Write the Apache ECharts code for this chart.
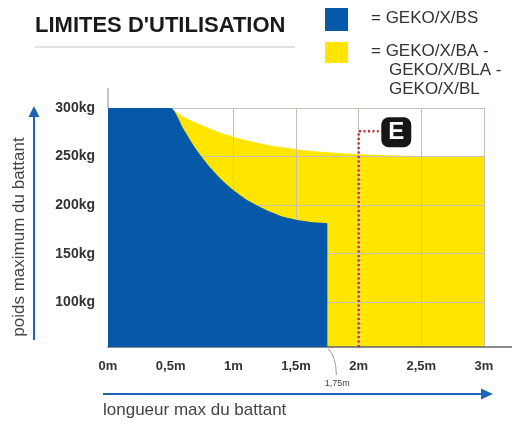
<!DOCTYPE html>
<html>
<head>
    <meta charset="UTF-8">
    <title>Limites d'utilisation</title>
    <script type="text/javascript" src="https://cdn.jsdelivr.net/npm/echarts@6/dist/echarts.min.js"></script>
    <style>
        html, body { margin: 0; padding: 0; background: #fff; }
        #main { width: 514px; height: 424px; }
    </style>
</head>
<body>
<div id="main"></div>
<script type="text/javascript">
    // textes
    var titleText = "LIMITES D'UTILISATION";
    var yTitle = 'poids maximum du battant';
    var xTitle = 'longueur max du battant';
    var legendBS = '= GEKO/X/BS';
    var legendBA = ['= GEKO/X/BA -', 'GEKO/X/BLA -', 'GEKO/X/BL'];

    // axes
    var xTickLabels = ['0m', '0,5m', '1m', '1,5m', '2m', '2,5m', '3m'];
    var yTickValues = [100, 150, 200, 250, 300];
    var yTickLabels = ['100kg', '150kg', '200kg', '250kg', '300kg'];
    var yMin = 54;

    // limites GEKO/X/BS (bleu) : longueur (m), poids (kg)
    var bsX = [0, 0.5, 0.6, 0.7, 0.8, 0.9, 1.0, 1.1, 1.2, 1.3, 1.4, 1.5, 1.6, 1.75];
    var bsY = [300, 300, 279, 258, 241, 227, 215.5, 206, 199, 193, 188, 185, 183, 181.5];

    // limites GEKO/X/BA - BLA - BL (jaune)
    var baX = [0.5, 0.6, 0.7, 0.8, 0.9, 1.0, 1.1, 1.2, 1.3, 1.4, 1.5, 1.6, 1.8, 2.0, 2.5, 3.0];
    var baY = [300, 291, 285, 279.5, 274.5, 270.5, 267, 264, 261.5, 259.5, 257.5, 256, 254, 252.5, 250.5, 249.5];

    // repere E
    var eLineX = [2, 2, 2.16];
    var eLineY = [yMin, 276, 276];
    var eBox = [2.3, 275];
    var bsLimit = 1.75;
    var bsLimitLabel = '1,75m';

    var blue = '#0659a8';
    var yellow = '#ffe500';
    var font = 'Liberation Sans, Arial, sans-serif';

    function pairs(xs, ys) {
        var out = [];
        for (var i = 0; i < xs.length; i++) out.push([xs[i], ys[i]]);
        return out;
    }

    var chart = echarts.init(document.getElementById('main'));
    chart.setOption({
        animation: false,
        grid: { left: 108, right: 30, top: 108, bottom: 77 },
        xAxis: {
            type: 'value', min: 0, max: 3, interval: 0.5, z: 1,
            axisLine: { show: true, lineStyle: { color: '#666', width: 1.5 } },
            axisTick: { show: false },
            axisLabel: {
                margin: 13, color: '#333', fontSize: 13, fontWeight: 'bold', fontFamily: font,
                formatter: function (v, i) { return xTickLabels[i]; }
            },
            splitLine: { show: true, lineStyle: { color: '#c9c0b5', width: 1 } }
        },
        yAxis: {
            type: 'value', min: yMin, max: 300, z: 1,
            axisLine: { show: true, lineStyle: { color: '#888', width: 1 } },
            axisTick: { show: false, customValues: yTickValues },
            axisLabel: {
                margin: 13, color: '#333', fontSize: 14, fontWeight: 'bold', fontFamily: font,
                customValues: yTickValues,
                formatter: function (v) { return yTickLabels[yTickValues.indexOf(v)]; }
            },
            splitLine: { show: true, lineStyle: { color: '#c9c0b5', width: 1 } }
        },
        series: [
            {
                name: 'GEKO/X/BA - GEKO/X/BLA - GEKO/X/BL', type: 'line', z: 0,
                data: pairs(baX, baY), smooth: 0.2,
                showSymbol: false, lineStyle: { width: 0 },
                areaStyle: { color: yellow, opacity: 1, origin: 'start' }
            },
            {
                name: 'GEKO/X/BS', type: 'line', z: 2,
                data: pairs(bsX, bsY), smooth: 0.2,
                showSymbol: false, lineStyle: { width: 0 },
                areaStyle: { color: blue, opacity: 1, origin: 'start' }
            },
            {
                type: 'line', z: 3, data: pairs(eLineX, eLineY), showSymbol: false,
                lineStyle: { color: '#d7262b', width: 2.5, type: [2, 2.5] }
            },
            {
                type: 'scatter', z: 4, data: [eBox], symbol: 'roundRect', symbolSize: 30,
                itemStyle: { color: '#161616', opacity: 1 },
                label: {
                    show: true, position: 'inside', formatter: 'E', color: '#fff',
                    fontSize: 24, fontWeight: 'bold', fontFamily: font
                }
            }
        ]
    });

    // decors : titre, legende, fleches, repere 1,75m
    var p0 = chart.convertToPixel({ gridIndex: 0 }, [0, 300]);
    var p3 = chart.convertToPixel({ gridIndex: 0 }, [3, yMin]);
    var pl = chart.convertToPixel({ gridIndex: 0 }, [bsLimit, yMin]);
    var arrowColor = '#1f63b5';

    chart.setOption({
        graphic: [
            { type: 'text', left: 35, top: 15, style: { text: titleText, font: 'bold 22px ' + font, fill: '#1a1a1a' } },
            { type: 'line', shape: { x1: 35, y1: 47, x2: 295, y2: 47 }, style: { stroke: '#e2e2e2', lineWidth: 2 } },
            { type: 'rect', shape: { x: 325, y: 8, width: 23, height: 23 }, style: { fill: blue } },
            { type: 'text', x: 371, y: 18, style: { text: legendBS, font: '17px ' + font, fill: '#333', verticalAlign: 'middle' } },
            { type: 'rect', shape: { x: 325, y: 42, width: 23, height: 21 }, style: { fill: yellow } },
            { type: 'text', x: 371, y: 51, style: { text: legendBA[0], font: '17px ' + font, fill: '#333', verticalAlign: 'middle' } },
            { type: 'text', x: 389, y: 70, style: { text: legendBA[1], font: '17px ' + font, fill: '#333', verticalAlign: 'middle' } },
            { type: 'text', x: 389, y: 89, style: { text: legendBA[2], font: '17px ' + font, fill: '#333', verticalAlign: 'middle' } },
            // prolongements des axes
            { type: 'line', shape: { x1: p0[0], y1: 88, x2: p0[0], y2: p0[1] }, style: { stroke: '#888', lineWidth: 1 } },
            { type: 'line', shape: { x1: p3[0], y1: p3[1], x2: 512, y2: p3[1] }, style: { stroke: '#666', lineWidth: 1.5 } },
            // fleche verticale
            { type: 'line', shape: { x1: 34, y1: 340, x2: 34, y2: 115 }, style: { stroke: arrowColor, lineWidth: 2 } },
            { type: 'polygon', shape: { points: [[34, 106], [28.5, 117], [39.5, 117]] }, style: { fill: arrowColor } },
            { type: 'text', x: 19, y: 237, rotation: Math.PI / 2, style: { text: yTitle, font: '17px ' + font, fill: '#444', align: 'center', verticalAlign: 'middle' } },
            // fleche horizontale
            { type: 'line', shape: { x1: 103, y1: 394, x2: 484, y2: 394 }, style: { stroke: arrowColor, lineWidth: 2 } },
            { type: 'polygon', shape: { points: [[493, 394], [481, 388.5], [481, 399.5]] }, style: { fill: arrowColor } },
            { type: 'text', x: 103, y: 410, style: { text: xTitle, font: '17px ' + font, fill: '#444', verticalAlign: 'middle' } },
            // repere 1,75m
            { type: 'bezierCurve', shape: { x1: pl[0] + 1, y1: pl[1] + 2, cpx1: pl[0] + 9, cpy1: pl[1] + 10, x2: pl[0] + 9, y2: pl[1] + 28 }, style: { stroke: '#999', lineWidth: 1, fill: null } },
            { type: 'text', x: pl[0] + 10, y: pl[1] + 37, style: { text: bsLimitLabel, font: '9px ' + font, fill: '#444', align: 'center', verticalAlign: 'middle' } }
        ]
    });
</script>
</body>
</html>
